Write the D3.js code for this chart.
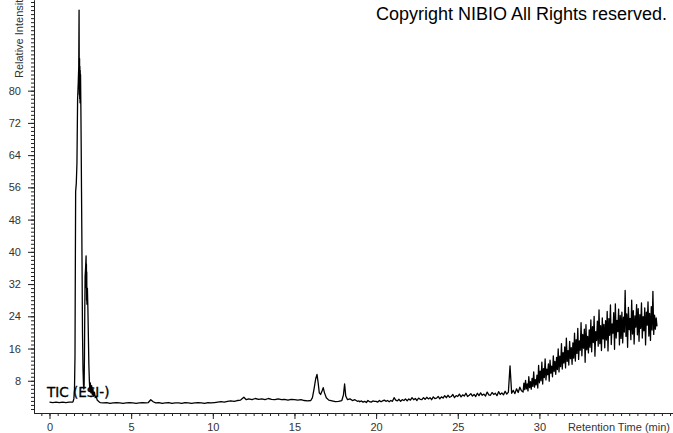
<!DOCTYPE html>
<html><head><meta charset="utf-8">
<script src="https://cdn.jsdelivr.net/npm/d3@7"></script>
<style>html,body{margin:0;padding:0;background:#fff;overflow:hidden}</style>
</head><body><svg id="c" width="673" height="433"></svg>
<script>
// ---- data (retention time in min, relative intensity) ----
const earlyTrace = [
 [0,2.7],[0.2,2.6],[0.4,2.7],[0.6,2.6],[0.8,2.7],[1.0,2.6],[1.2,2.7],[1.4,2.7],
 [1.44,2.8],[1.49,3.5],[1.53,6],[1.56,14],[1.58,35],[1.60,55],[1.64,57],[1.68,62],[1.72,78],[1.76,82],[1.79,86],
 [1.81,100],[1.82,84],[1.83,79],[1.84,88],[1.85,78],[1.86,86],[1.87,77],[1.88,85],[1.89,78],[1.90,84],[1.92,76],
 [1.94,66],[1.96,55],[1.98,44],[2.00,32],[2.02,20],[2.05,11],[2.08,7],[2.10,6],[2.12,7],[2.14,14],[2.16,26],
 [2.18,34],[2.21,36],[2.24,39],[2.25,31],[2.26,37],[2.27,28],[2.28,35],[2.29,27],[2.32,31],[2.35,26],[2.38,19],
 [2.41,12],[2.44,8],[2.47,5.5],[2.50,7.5],[2.54,5],[2.58,6.8],[2.62,4.6],[2.66,6],[2.70,4.2],[2.75,5.2],[2.80,3.8],
 [2.86,4.2],[2.92,3.2],[2.98,3.0],[3.05,2.7],[3.1,2.6],
 [3.3,2.5],[3.5,2.6],[3.7,2.4],[3.9,2.5],[4.1,2.6],[4.3,2.5],[4.5,2.4],[4.7,2.5],[4.9,2.6],[5.1,2.5],[5.3,2.4],
 [5.5,2.5],[5.7,2.6],[5.9,2.5],[6.05,2.6],[6.2,3.3],[6.35,2.8],[6.5,2.5],[6.7,2.6],[6.9,2.4],[7.1,2.5],[7.3,2.6],
 [7.5,2.4],[7.7,2.5],[7.9,2.5],[8.1,2.4],[8.3,2.6],[8.5,2.5],[8.7,2.4],[8.9,2.5],[9.1,2.6],[9.3,2.5],[9.5,2.4],
 [9.7,2.6],[9.9,2.5],[10.1,2.6],[10.3,2.7],[10.5,2.8],[10.7,2.7],[10.9,2.9],[11.1,3.0],[11.3,2.9],[11.5,3.1],
 [11.7,3.2],[11.9,3.9],[12.05,3.3],[12.2,3.5],[12.4,3.3],[12.6,3.6],[12.8,3.4],[13.0,3.5],[13.2,3.3],[13.4,3.6],
 [13.6,3.4],[13.8,3.3],[14.0,3.5],[14.2,3.3],[14.4,3.4],[14.6,3.2],[14.8,3.4],[15.0,3.3],[15.2,3.2],[15.4,3.3],
 [15.6,3.1],[15.8,3.0],[16.0,3.1],[16.1,3.8],[16.2,6.0],[16.3,8.5],[16.38,9.6],[16.45,7.5],[16.52,5.0],[16.6,4.6],
 [16.7,5.6],[16.76,6.3],[16.84,5.0],[16.95,3.8],[17.1,3.2],[17.3,3.0],[17.5,2.8],[17.7,2.9],[17.9,3.1],[18.0,4.5],
 [18.07,7.2],[18.14,4.2],[18.25,3.3],[18.4,3.5],[18.55,3.1],[18.7,3.3],[18.85,2.9],[18.95,3.0]
];
const lowNoiseStart = 19.0, lowNoiseStep = 0.1;
const lowNoiseValues = [
 2.8,3.0,2.7,2.9,2.6,3.1,2.8,2.7,3.0,2.9,
 2.9,2.7,3.1,2.8,3.0,3.2,2.9,3.1,2.8,3.1,
 2.9,3.8,3.2,3.0,3.4,2.9,3.3,3.1,3.5,3.0,
 3.5,3.2,3.8,3.3,3.6,3.1,3.7,3.4,3.3,3.8,
 3.4,3.9,3.5,3.8,3.3,4.0,3.6,3.7,4.1,3.5,
 4.0,3.7,4.3,3.8,4.4,3.9,4.1,4.6,3.8,4.3,
 4.1,4.7,4.0,4.5,4.2,4.9,4.1,4.4,4.8,4.2,
 4.6,4.1,4.9,4.3,5.0,4.4,4.7,4.2,5.2,4.5,
 4.4,5.1,4.6,4.9,4.3,5.3,4.6,5.0,4.5,5.4,
 4.7,5.2,11.7,4.9,5.6,4.8,6.0,5.1,6.4,5.5
];
const highNoiseStart = 29.0, highNoiseStep = 0.05;
const highNoiseValues = [
 5.2,7.4,5.8,8.1,6.0,7.2,5.5,9.0,6.3,7.8,5.9,8.6,6.6,10.2,6.4,8.3,7.0,9.4,6.2,11.8,
 7.5,10.4,8.0,12.6,7.2,11.0,8.8,13.4,8.2,10.9,9.5,12.2,7.9,13.1,9.9,11.6,9.0,14.2,10.3,12.8,
 9.6,13.8,10.8,15.9,10.2,14.1,11.5,17.2,10.9,15.0,12.4,16.4,11.2,18.6,12.8,15.5,11.9,17.8,13.5,16.2,
 12.1,17.4,13.6,19.8,12.9,18.2,14.8,21.0,13.3,17.9,15.6,22.4,14.2,19.5,16.1,20.8,12.6,21.9,15.7,19.0,
 14.9,20.6,16.3,23.1,15.2,21.4,17.5,24.0,14.1,20.2,18.0,22.8,16.6,25.6,17.2,21.7,15.5,23.6,18.4,22.0,
 16.2,22.9,18.1,25.2,15.4,23.4,19.3,26.8,17.0,22.1,19.8,24.9,15.8,27.1,18.6,23.0,20.2,25.8,16.9,24.2,
 18.5,25.0,17.4,23.8,20.1,30.4,19.0,24.6,16.3,26.2,20.7,23.5,18.2,28.0,19.6,25.4,17.1,24.1,21.3,26.9,
 19.4,25.9,17.8,24.4,21.0,27.3,18.6,23.9,20.4,26.1,16.9,25.0,21.8,27.6,19.1,24.7,18.0,26.4,20.6,30.2,
 19.5,24.3,20.8,23.6,21.5
];
const xMajorTicks = [0,5,10,15,20,25,30];
const yMajorTicks = [8,16,24,32,40,48,56,64,72,80];
const traceLabel = "TIC (ESI-)";
const xTitle = "Retention Time (min)";
const yTitle = "Relative Intensity";
const copyright = "Copyright NIBIO All Rights reserved.";

// ---- assemble series ----
const trace = earlyTrace.map(d => ({t: d[0], v: d[1]}))
  .concat(lowNoiseValues.map((v, i) => ({t: lowNoiseStart + i * lowNoiseStep, v})))
  .concat(highNoiseValues.map((v, i) => ({t: highNoiseStart + i * highNoiseStep, v})));

const svg = d3.select("#c");
svg.append("rect").attr("width", 673).attr("height", 433).attr("fill", "#fff");

const x = d3.scaleLinear().domain([-0.95, 38.18]).range([34, 673]);
const y = d3.scaleLinear().domain([0, 102.5]).range([413, 0]);

const axisColor = "#222";
const labelFont = "Liberation Sans, Arial, sans-serif";

const xMinor = d3.range(-0.5, 38.1, 0.5);
const gxm = svg.append("g").attr("transform", "translate(0,413)")
  .call(d3.axisBottom(x).tickValues(xMinor).tickSize(3).tickSizeOuter(0).tickFormat(""));
const gx = svg.append("g").attr("transform", "translate(0,413)")
  .call(d3.axisBottom(x).tickValues(xMajorTicks).tickSize(6).tickSizeOuter(0).tickPadding(4).tickFormat(d3.format("d")));
const yMinor = d3.range(1, 103, 1);
const gym = svg.append("g").attr("transform", "translate(34,0)")
  .call(d3.axisLeft(y).tickValues(yMinor).tickSize(3).tickSizeOuter(0).tickFormat(""));
const gy = svg.append("g").attr("transform", "translate(34,0)")
  .call(d3.axisLeft(y).tickValues(yMajorTicks).tickSize(6).tickSizeOuter(0).tickPadding(7).tickFormat(d3.format("d")));

[gxm, gx, gym, gy].forEach(g => {
  g.selectAll("path,line").attr("stroke", axisColor);
  g.selectAll("text").attr("fill", "#333").attr("font-family", labelFont).attr("font-size", 11);
});

// trace
const line = d3.line().x(d => x(d.t)).y(d => y(d.v));
svg.append("path").datum(trace).attr("d", line)
  .attr("fill", "none").attr("stroke", "#000").attr("stroke-width", 1.3)
  .attr("stroke-linejoin", "round");

// texts
svg.append("text").attr("x", 47).attr("y", 397).text(traceLabel)
  .attr("font-family", "DejaVu Sans, sans-serif").attr("font-size", 13.5).attr("fill", "#000")
  .attr("stroke", "#000").attr("stroke-width", 0.35);
svg.append("text").attr("x", 670).attr("y", 431).attr("text-anchor", "end").text(xTitle)
  .attr("font-family", labelFont).attr("font-size", 11).attr("fill", "#333");
svg.append("text").attr("transform", "translate(23,78) rotate(-90)").text(yTitle)
  .attr("font-family", labelFont).attr("font-size", 11).attr("fill", "#333");
svg.append("text").attr("x", 376).attr("y", 20).text(copyright)
  .attr("font-family", labelFont).attr("font-size", 18).attr("fill", "#000");
</script></body></html>
